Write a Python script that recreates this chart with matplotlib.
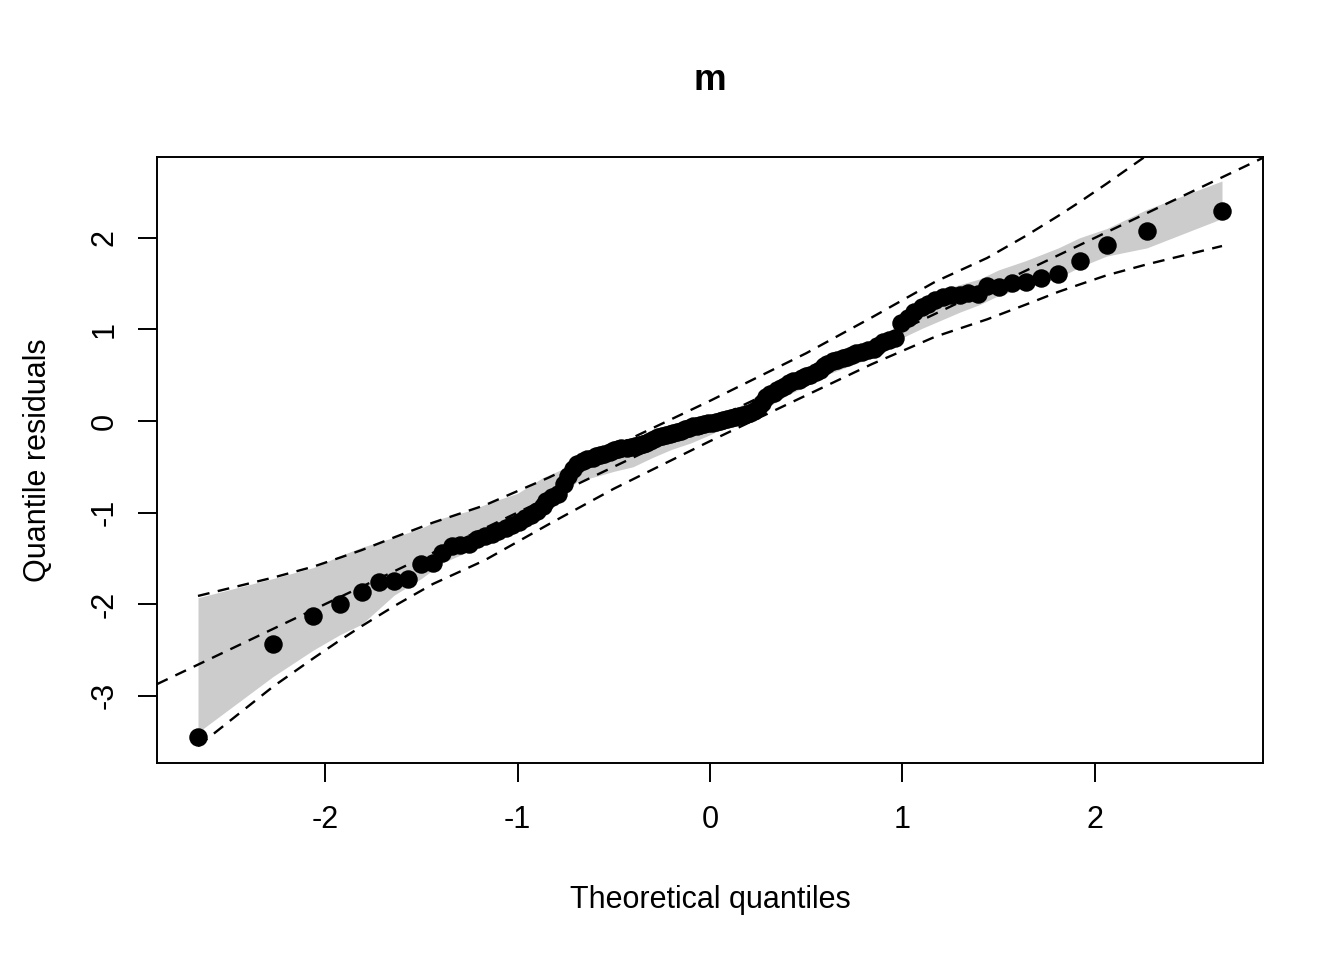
import numpy as np
import matplotlib.pyplot as plt

plt.rcParams['font.family'] = ['Liberation Sans', 'DejaVu Sans']
plt.rcParams['axes.unicode_minus'] = False

# theoretical quantiles (x) and quantile residuals (y)
theo_q = [-2.66, -2.27, -2.06, -1.92, -1.81, -1.72, -1.64, -1.57, -1.50, -1.44,
          -1.39, -1.34, -1.30, -1.25, -1.21, -1.17, -1.13, -1.10, -1.06, -1.03,
          -0.99, -0.96, -0.93, -0.90, -0.87, -0.85, -0.82, -0.79, -0.76, -0.74,
          -0.71, -0.69, -0.66, -0.64, -0.61, -0.59, -0.57, -0.55, -0.52, -0.50,
          -0.48, -0.46, -0.43, -0.41, -0.39, -0.37, -0.35, -0.33, -0.31, -0.29,
          -0.27, -0.25, -0.23, -0.21, -0.19, -0.17, -0.15, -0.13, -0.11, -0.09,
          -0.07, -0.05, -0.03, -0.01,
          0.01, 0.03, 0.05, 0.07, 0.09, 0.11, 0.13, 0.15, 0.17, 0.19,
          0.21, 0.23, 0.25, 0.27, 0.29, 0.31, 0.33, 0.35, 0.37, 0.39,
          0.41, 0.43, 0.46, 0.48, 0.50, 0.52, 0.55, 0.57, 0.59, 0.61,
          0.64, 0.66, 0.69, 0.71, 0.74, 0.76, 0.79, 0.82, 0.85, 0.87,
          0.90, 0.93, 0.96, 0.99, 1.03, 1.06, 1.10, 1.13, 1.17, 1.21,
          1.25, 1.30, 1.34, 1.39, 1.44, 1.50, 1.57, 1.64, 1.72, 1.81,
          1.92, 2.06, 2.27, 2.66]
resid_q = [-3.45, -2.43, -2.13, -2.00, -1.87, -1.76, -1.75, -1.72, -1.56, -1.55,
           -1.44, -1.37, -1.35, -1.34, -1.29, -1.26, -1.23, -1.20, -1.17, -1.14,
           -1.10, -1.06, -1.03, -0.98, -0.93, -0.87, -0.83, -0.80, -0.69, -0.60,
           -0.52, -0.47, -0.44, -0.42, -0.40, -0.38, -0.37, -0.36, -0.34, -0.32,
           -0.31, -0.30, -0.29, -0.28, -0.27, -0.26, -0.25, -0.24, -0.22, -0.20,
           -0.18, -0.16, -0.15, -0.14, -0.13, -0.12, -0.11, -0.09, -0.08, -0.06,
           -0.05, -0.04, -0.03, -0.02,
           -0.02, -0.01, 0.00, 0.01, 0.02, 0.03, 0.04, 0.05, 0.06, 0.08,
           0.09, 0.11, 0.14, 0.20, 0.26, 0.29, 0.31, 0.34, 0.36, 0.38,
           0.42, 0.44, 0.45, 0.47, 0.49, 0.50, 0.53, 0.56, 0.60, 0.62,
           0.65, 0.67, 0.69, 0.70, 0.72, 0.74, 0.75, 0.77, 0.79, 0.82,
           0.86, 0.88, 0.91, 1.07, 1.12, 1.19, 1.24, 1.28, 1.32, 1.35,
           1.37, 1.38, 1.40, 1.39, 1.47, 1.46, 1.51, 1.52, 1.56, 1.60,
           1.75, 1.92, 2.07, 2.29]

# grey band (range of simulated residuals)
band_x = [-2.66, -2.27, -2.06, -1.92, -1.81, -1.64, -1.50, -1.39, -1.25, -1.13,
          -1.00, -0.87, -0.76, -0.69, -0.60, -0.50, -0.40, -0.30, -0.20, -0.10,
          0.00, 0.10, 0.20, 0.30, 0.40, 0.50, 0.60, 0.70, 0.80, 0.90,
          0.96, 0.99, 1.10, 1.20, 1.30, 1.40, 1.50, 1.64, 1.81, 1.92,
          2.06, 2.27, 2.66]
band_lo = [-3.40, -2.79, -2.50, -2.33, -2.22, -1.90, -1.72, -1.55, -1.42, -1.31,
           -1.16, -1.02, -0.80, -0.66, -0.61, -0.55, -0.50, -0.40, -0.31, -0.24,
           -0.15, -0.05, 0.04, 0.15, 0.28, 0.38, 0.50, 0.58, 0.66, 0.76,
           0.82, 0.90, 1.01, 1.10, 1.19, 1.27, 1.37, 1.46, 1.56, 1.68,
           1.80, 1.89, 2.21]
band_hi = [-1.93, -1.72, -1.60, -1.47, -1.38, -1.27, -1.17, -1.06, -0.98, -0.88,
           -0.79, -0.62, -0.52, -0.42, -0.34, -0.28, -0.22, -0.17, -0.10, -0.04,
           0.03, 0.11, 0.21, 0.36, 0.45, 0.55, 0.66, 0.74, 0.82, 0.92,
           1.00, 1.14, 1.32, 1.43, 1.49, 1.55, 1.65, 1.75, 1.89, 2.00,
           2.10, 2.31, 2.62]

# dashed pointwise confidence curves
ci_x = [-2.66, -2.27, -2.06, -1.92, -1.81, -1.64, -1.44, -1.17, -0.84, -0.50,
        -0.25, 0.00, 0.25, 0.50, 0.84, 1.17, 1.44, 1.64, 1.81, 1.92,
        2.06, 2.27, 2.66]
ci_lo = [-3.55, -2.90, -2.59, -2.39, -2.24, -2.02, -1.78, -1.52, -1.13, -0.74,
         -0.48, -0.22, 0.03, 0.28, 0.62, 0.92, 1.11, 1.27, 1.41, 1.49,
         1.59, 1.71, 1.91]
ci_hi = [-1.91, -1.71, -1.59, -1.49, -1.41, -1.27, -1.11, -0.92, -0.62, -0.28,
         -0.03, 0.22, 0.48, 0.74, 1.13, 1.52, 1.78, 2.02, 2.24, 2.39,
         2.59, 2.90, 3.55]

dash = (0, (5, 3.6))

fig = plt.figure(figsize=(13.44, 9.6), dpi=100)
ax = fig.add_axes([157/1344, 1 - 763/960, (1263 - 157)/1344, (763 - 157)/960])

ax.fill_between(band_x, band_lo, band_hi, color='#cccccc', lw=0, zorder=1)
ax.axline((0, 0), slope=1, color='black', lw=1.7, ls=dash, zorder=2)
ax.plot(ci_x, ci_lo, color='black', lw=1.7, ls=dash, zorder=2)
ax.plot(ci_x, ci_hi, color='black', lw=1.7, ls=dash, zorder=2)
ax.plot(theo_q, resid_q, 'o', color='black', ms=12.3, zorder=3)

ax.set_xlim(-2.873, 2.873)
ax.set_ylim(-3.734, 2.882)
ax.set_xticks([-2, -1, 0, 1, 2])
ax.set_yticks([-3, -2, -1, 0, 1, 2])
ax.tick_params(length=14, width=1.4, labelsize=22)
ax.tick_params(axis='x', pad=16)
ax.tick_params(axis='y', pad=13, labelrotation=90)
for lab in ax.get_yticklabels():
    lab.set_va('center')
for s in ax.spines.values():
    s.set_linewidth(1.4)

fig.text(710/1344, 1 - 80/960, 'm', ha='center', va='center',
         fontsize=26.5, fontweight='bold')
fig.text(710/1344, 1 - 900/960, 'Theoretical quantiles', ha='center',
         va='center', fontsize=22)
fig.text(38/1344, 1 - 460/960, 'Quantile residuals', ha='center',
         va='center', fontsize=22, rotation=90)

fig.savefig('out.png', dpi=100)
